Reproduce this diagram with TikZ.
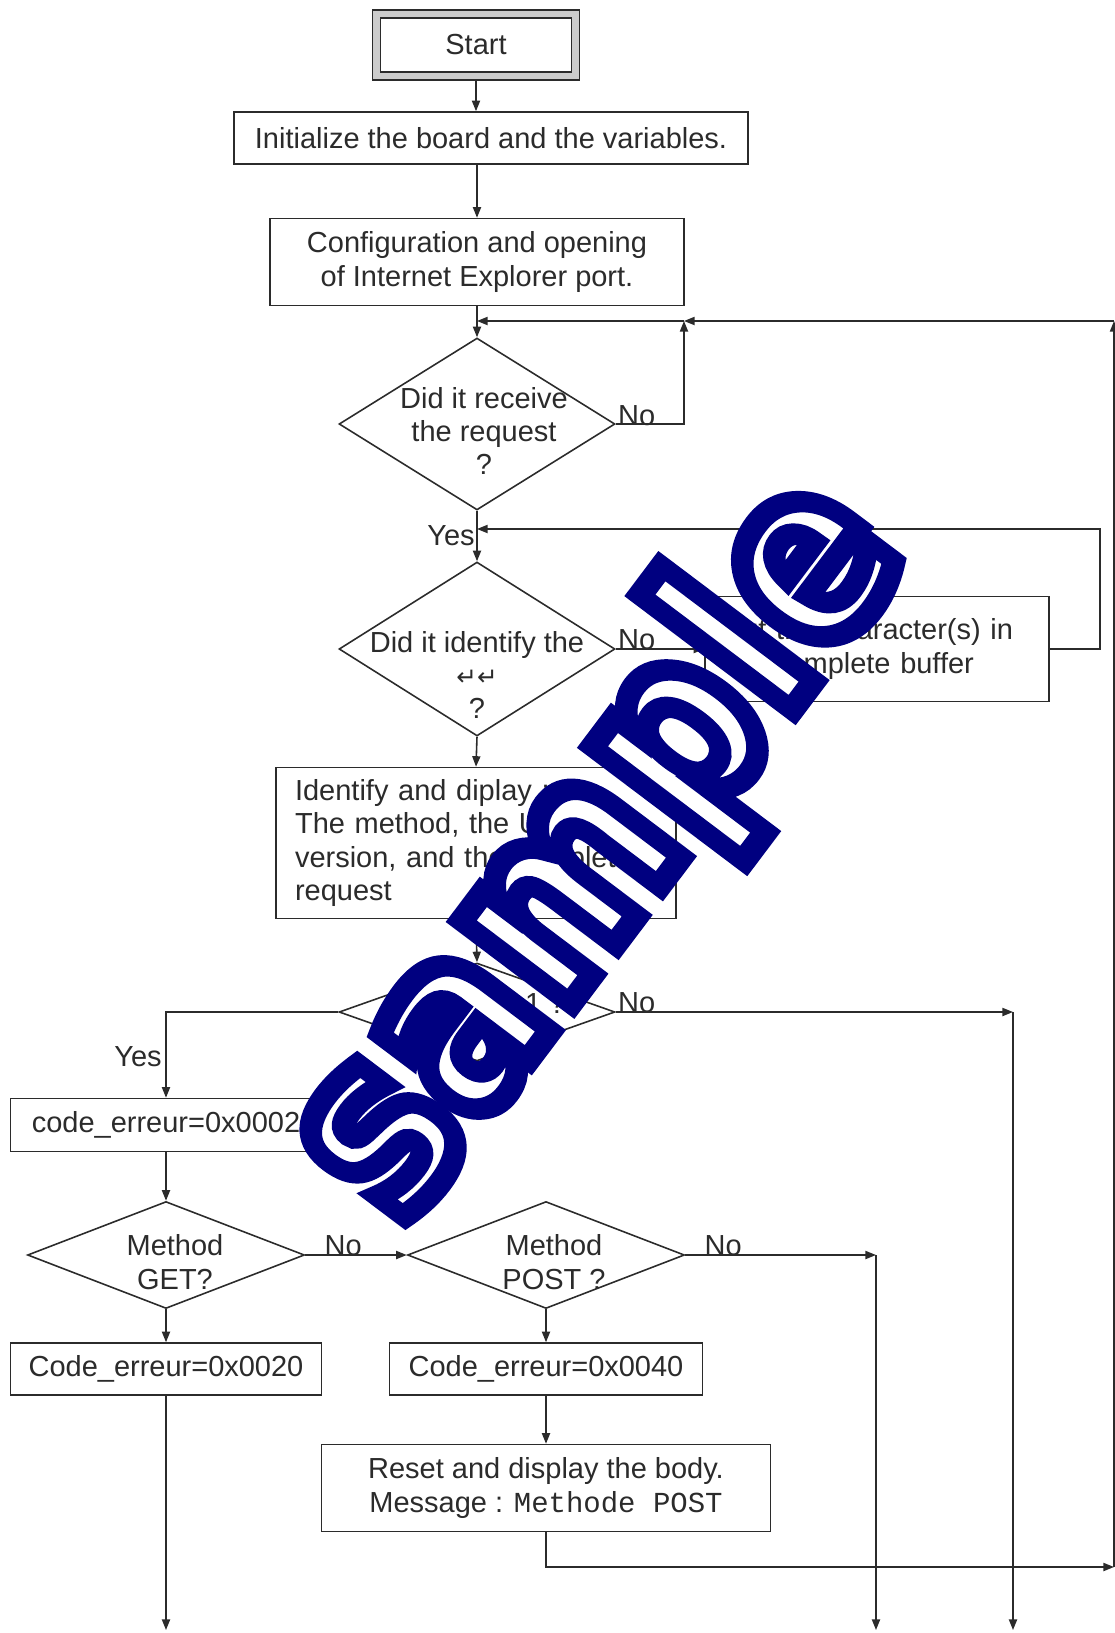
\documentclass[tikz,border=0pt]{standalone}
\usepackage{fontspec}
\setmainfont{Liberation Sans}
\setmonofont{Liberation Mono}
\newfontfamily\symfont{DejaVu Sans}
\newfontfamily\markfont[FakeBold=9.5]{DejaVu Sans Bold}
\usetikzlibrary{arrows.meta, positioning, calc, shapes.geometric}
\definecolor{ink}{HTML}{2B2B2B}
\definecolor{wmblue}{HTML}{000080}
\newcommand{\flowfont}{\fontsize{16.5}{19}\selectfont}

\begin{document}
\begin{tikzpicture}[x=0.02cm, y=-0.02cm, every node/.style={font=\flowfont, text=ink},
  box/.style={draw=ink, line width=0.9pt, inner sep=0pt, align=center, fill=white},
  cond/.style={diamond, draw=ink, line width=0.9pt, inner sep=0pt, minimum width=5.52cm},
  lbl/.style={inner sep=0pt},
  arr/.style={draw=ink, line width=0.9pt, -{Triangle[length=6pt,width=4.6pt]}},
  link/.style={draw=ink, line width=0.9pt},
  stamp/.style={rotate=53, inner sep=0pt, font=\fontsize{119}{119}\selectfont}]
  \useasboundingbox (0,0) rectangle (1115,1633);

  % boxes at the top
  \node[box, fill=gray!40, minimum width=4.14cm, minimum height=1.40cm] (start) at (476,45) {};
  \node[box, minimum width=3.82cm, minimum height=1.08cm] (startin) at (start) {Start};
  \node[box, minimum width=10.28cm, minimum height=1.04cm] (init) at (491,138) {Initialize the board and the variables.};
  \node[box, minimum width=8.28cm, minimum height=1.74cm] (config) at (477,262) {Configuration and opening\\of Internet Explorer port.};

  % request loop
  \node[cond, minimum height=3.44cm] (d1) at (477,424) {};
  \node[lbl, align=center] (d1t) at (484,431) {Did it receive\\the request\\?};
  \node[cond, minimum height=3.48cm] (d2) at (477,649) {};
  \node[lbl, align=center] (d2t) at (477,675) {Did it identify the\\{\symfont\fontsize{14}{14}\selectfont ↵↵}\\?};
  \node[box, minimum width=6.88cm, minimum height=2.10cm, align=left, text width=6.16cm] (buffer) at (877,649) {Put the character(s) in\\the complete buffer};
  \node[box, minimum width=8.0cm, minimum height=3.02cm, align=left, text width=7.24cm] (ident) at (476,843) {Identify and diplay :\\The method, the URL, the\\version, and the complete\\request};

  % version and method
  \node[cond, minimum height=1.96cm] (d3) at (477,1012) {};
  \node[lbl, anchor=west] (d3t) at (425,1003) {HTTP1.1 ?};
  \node[box, minimum width=6.22cm, minimum height=1.06cm] (code1) at (166,1125) {code\_erreur=0x0002};
  \node[cond, minimum width=5.54cm, minimum height=2.14cm] (d4) at (166,1255) {};
  \node[lbl, align=center] (d4t) at (175,1262) {Method\\GET?};
  \node[cond, minimum width=5.54cm, minimum height=2.14cm] (d5) at (546,1255) {};
  \node[lbl, align=center] (d5t) at (554,1262) {Method\\POST ?};
  \node[box, minimum width=6.22cm, minimum height=1.04cm] (code2) at (166,1369) {Code\_erreur=0x0020};
  \node[box, minimum width=6.26cm, minimum height=1.04cm] (code3) at (546,1369) {Code\_erreur=0x0040};
  \node[box, minimum width=8.98cm, minimum height=1.74cm] (reset) at (546,1488) {Reset and display the body.\\Message : \texttt{Methode POST}};

  % yes / no
  \node[lbl, anchor=west] (no1) at ($(d1.east)+(2,-8)$) {No};
  \node[lbl, anchor=west] (no2) at ($(d2.east)+(2,-9)$) {No};
  \node[lbl, anchor=west] (no3) at ($(d3.east)+(2,-9)$) {No};
  \node[lbl, anchor=west] (no4) at ($(d4.east)+(19,-9)$) {No};
  \node[lbl, anchor=west] (no5) at ($(d5.east)+(19,-9)$) {No};
  \node[lbl, anchor=east] (yes1) at (475,536) {Yes};
  \node[lbl, anchor=east] (yes3) at (162,1057) {Yes};

  \coordinate (jtop) at (477,321);
  \coordinate (ktop) at (684,321);
  \coordinate (rtop) at (1114,321);
  \coordinate (rbot) at (1114,1567);
  \coordinate (j2) at (477,529);
  \coordinate (k3) at (1013,1012);
  \coordinate (k5) at (876,1255);

  \draw[arr] (start.south) -- (start.south |- init.north);
  \draw[arr] (init.south -| config) -- (config.north);
  \draw[arr] (config.south) -- (d1.north);
  \draw[arr] (rbot) -- (rtop);
  \draw[arr] (rtop) -- (ktop);
  \draw[arr] (ktop) -- (jtop);
  \draw[arr] (d1.east) -| (ktop);
  \draw[arr] (d1.south) -- (d2.north);
  \draw[arr] (d2.east) -- (buffer.west);
  \draw[arr] (buffer.east) -- ++(50,0) |- (j2);
  \draw[arr] (d2.south) -- (ident.north);
  \draw[arr] (ident.south) -- (d3.north);
  \draw[arr] (d3.east) -- (k3);
  \draw[arr] (k3) -- (1013,1630);
  \draw[arr] (d3.west) -| (code1.north);
  \draw[arr] (code1.south) -- (d4.north);
  \draw[arr] (d4.east) -- (d5.west);
  \draw[arr] (d5.east) -- (k5);
  \draw[arr] (k5) -- (876,1630);
  \draw[arr] (d4.south) -- (code2.north);
  \draw[arr] (code2.south) -- (166,1630);
  \draw[arr] (d5.south) -- (code3.north);
  \draw[arr] (code3.south) -- (reset.north);
  \draw[arr] (reset.south) |- (rbot);

  % watermark
  \node[stamp, text=wmblue] (wmark) at (600,850) {\markfont\special{pdf:literal direct 1 1 1 rg}\scalebox{1}[1.2]{sample}};
\end{tikzpicture}
\end{document}
